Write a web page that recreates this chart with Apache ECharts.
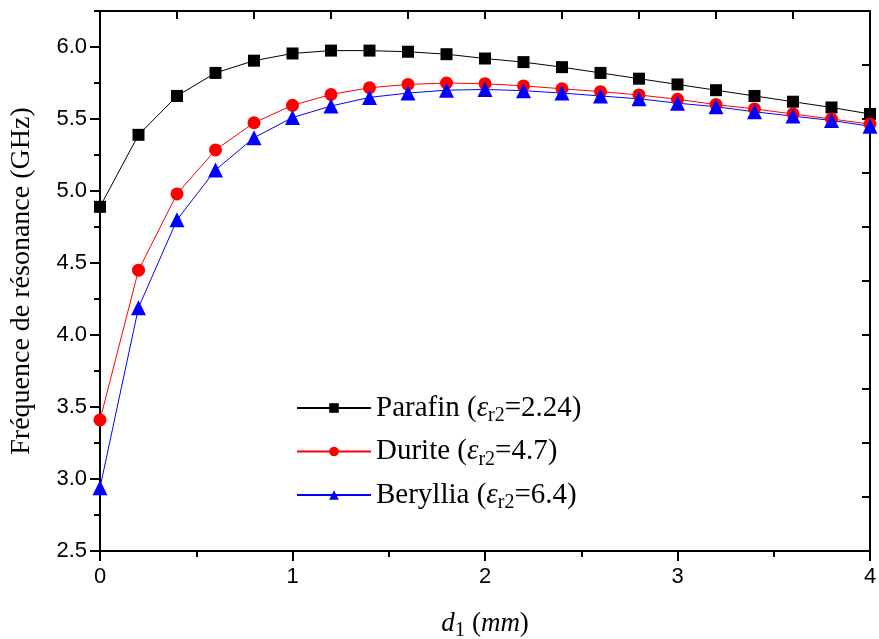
<!DOCTYPE html>
<html>
<head>
<meta charset="utf-8">
<script src="https://cdn.jsdelivr.net/npm/echarts@6/dist/echarts.min.js"></script>
<style>
  html, body { margin: 0; padding: 0; background: #fff; }
  #chart { width: 879px; height: 639px; }
</style>
</head>
<body>
<div id="chart"></div>
<script>
// d1 (mm)
const d1 = [0, 0.2, 0.4, 0.6, 0.8, 1.0, 1.2, 1.4, 1.6, 1.8, 2.0, 2.2, 2.4, 2.6, 2.8, 3.0, 3.2, 3.4, 3.6, 3.8, 4.0]
// fréquence de résonance (GHz)
const parafin  = [4.89, 5.39, 5.66, 5.82, 5.905, 5.955, 5.975, 5.975, 5.967, 5.95, 5.92, 5.895, 5.86, 5.82, 5.78, 5.74, 5.70, 5.66, 5.62, 5.58, 5.535]
const durite   = [3.41, 4.45, 4.98, 5.285, 5.474, 5.595, 5.67, 5.717, 5.74, 5.75, 5.745, 5.73, 5.71, 5.69, 5.667, 5.637, 5.60, 5.57, 5.535, 5.50, 5.465]
const beryllia = [2.94, 4.19, 4.80, 5.146, 5.37, 5.51, 5.59, 5.65, 5.68, 5.70, 5.705, 5.697, 5.68, 5.66, 5.64, 5.61, 5.585, 5.55, 5.52, 5.49, 5.45]
const names = ['Parafin', 'Durite', 'Beryllia']
const epsValues = ['2.24', '4.7', '6.4']

function pairs(ys){
    return d1.map((x, i) => [x, ys[i]])
}

let box = document.querySelector("#chart")
let myChart = echarts.init(box)

const serif = "'Liberation Serif', 'Times New Roman', serif"
const sans = "'Liberation Sans', Arial, sans-serif"
const axisLine = { show: true, onZero: false, lineStyle: { color: '#000', width: 2 } }

let option = {
    animation: false,
    grid: { left: 100, right: 9, top: 11, bottom: 88, containLabel: false, outerBoundsMode: 'none' },
    legend: {
        orient: 'vertical',
        left: 291,
        top: 385,
        itemWidth: 74,
        itemHeight: 12,
        itemGap: 7.5,
        data: names,
        formatter: function(name){
            let i = names.indexOf(name)
            return '{n|' + name + ' (}{e|ε}{s|r2}{n|=' + epsValues[i] + ')}'
        },
        textStyle: {
            color: '#000',
            fontFamily: serif,
            fontSize: 29,
            rich: {
                n: { fontFamily: serif, fontSize: 29, color: '#000', lineHeight: 30 },
                e: { fontFamily: serif, fontSize: 29, fontStyle: 'italic', color: '#000', lineHeight: 30 },
                s: { fontFamily: serif, fontSize: 20, color: '#000', lineHeight: 14, padding: [16, 0, 0, 0] }
            }
        }
    },
    xAxis: [
        {
            type: 'value', position: 'bottom', min: 0, max: 4, interval: 1,
            name: '{i|d}{s|1}{n| (}{i|mm}{n|)}',
            nameLocation: 'middle',
            nameGap: 58,
            nameTextStyle: {
                rich: {
                    i: { fontFamily: serif, fontStyle: 'italic', fontSize: 27, color: '#000', lineHeight: 30 },
                    n: { fontFamily: serif, fontSize: 27, color: '#000', lineHeight: 30 },
                    s: { fontFamily: serif, fontSize: 21, color: '#000', lineHeight: 18, padding: [12, 0, 0, 0] }
                }
            },
            axisLine: axisLine,
            axisTick: { show: true, inside: false, length: 10, lineStyle: { color: '#000', width: 2 } },
            minorTick: { show: true, splitNumber: 2, length: 6, lineStyle: { color: '#000', width: 2 } },
            axisLabel: { color: '#000', fontFamily: sans, fontSize: 22, margin: 15 },
            splitLine: { show: false }
        },
        {
            type: 'value', position: 'top', min: 0, max: 4, interval: 0.4,
            axisLine: axisLine,
            axisTick: { show: true, inside: true, length: 8, lineStyle: { color: '#000', width: 2 } },
            axisLabel: { show: false },
            splitLine: { show: false }
        }
    ],
    yAxis: [
        {
            type: 'value', position: 'left', min: 2.5, max: 6.25, interval: 0.5,
            name: 'Fréquence de résonance (GHz)',
            nameLocation: 'middle',
            nameGap: 64,
            nameTextStyle: { fontFamily: serif, fontSize: 28, color: '#000' },
            axisLine: axisLine,
            axisTick: { show: true, inside: false, length: 10, lineStyle: { color: '#000', width: 2 } },
            axisLabel: {
                color: '#000', fontFamily: sans, fontSize: 22, margin: 13, showMaxLabel: false,
                formatter: v => v.toFixed(1)
            },
            splitLine: { show: false }
        },
        {
            type: 'value', position: 'left', min: 2.5, max: 6.25, interval: 0.25,
            axisLine: axisLine,
            axisTick: { show: true, inside: false, length: 6, lineStyle: { color: '#000', width: 2 } },
            axisLabel: { show: false },
            splitLine: { show: false }
        },
        {
            type: 'value', position: 'right', min: 2.5, max: 6.25, interval: 0.375,
            axisLine: axisLine,
            axisTick: { show: true, inside: true, length: 8, lineStyle: { color: '#000', width: 2 } },
            axisLabel: { show: false },
            splitLine: { show: false }
        }
    ],
    series: [
        {
            name: 'Parafin', type: 'line', data: pairs(parafin),
            symbol: 'rect', symbolSize: 12,
            lineStyle: { color: '#000', width: 1 },
            itemStyle: { color: '#000' }
        },
        {
            name: 'Durite', type: 'line', data: pairs(durite),
            symbol: 'circle', symbolSize: 13,
            lineStyle: { color: '#ff0000', width: 1 },
            itemStyle: { color: '#ff0000' }
        },
        {
            name: 'Beryllia', type: 'line', data: pairs(beryllia),
            symbol: 'triangle', symbolSize: 15,
            lineStyle: { color: '#0000ff', width: 1 },
            itemStyle: { color: '#0000ff' }
        }
    ]
}
myChart.setOption(option)
</script>
</body>
</html>
